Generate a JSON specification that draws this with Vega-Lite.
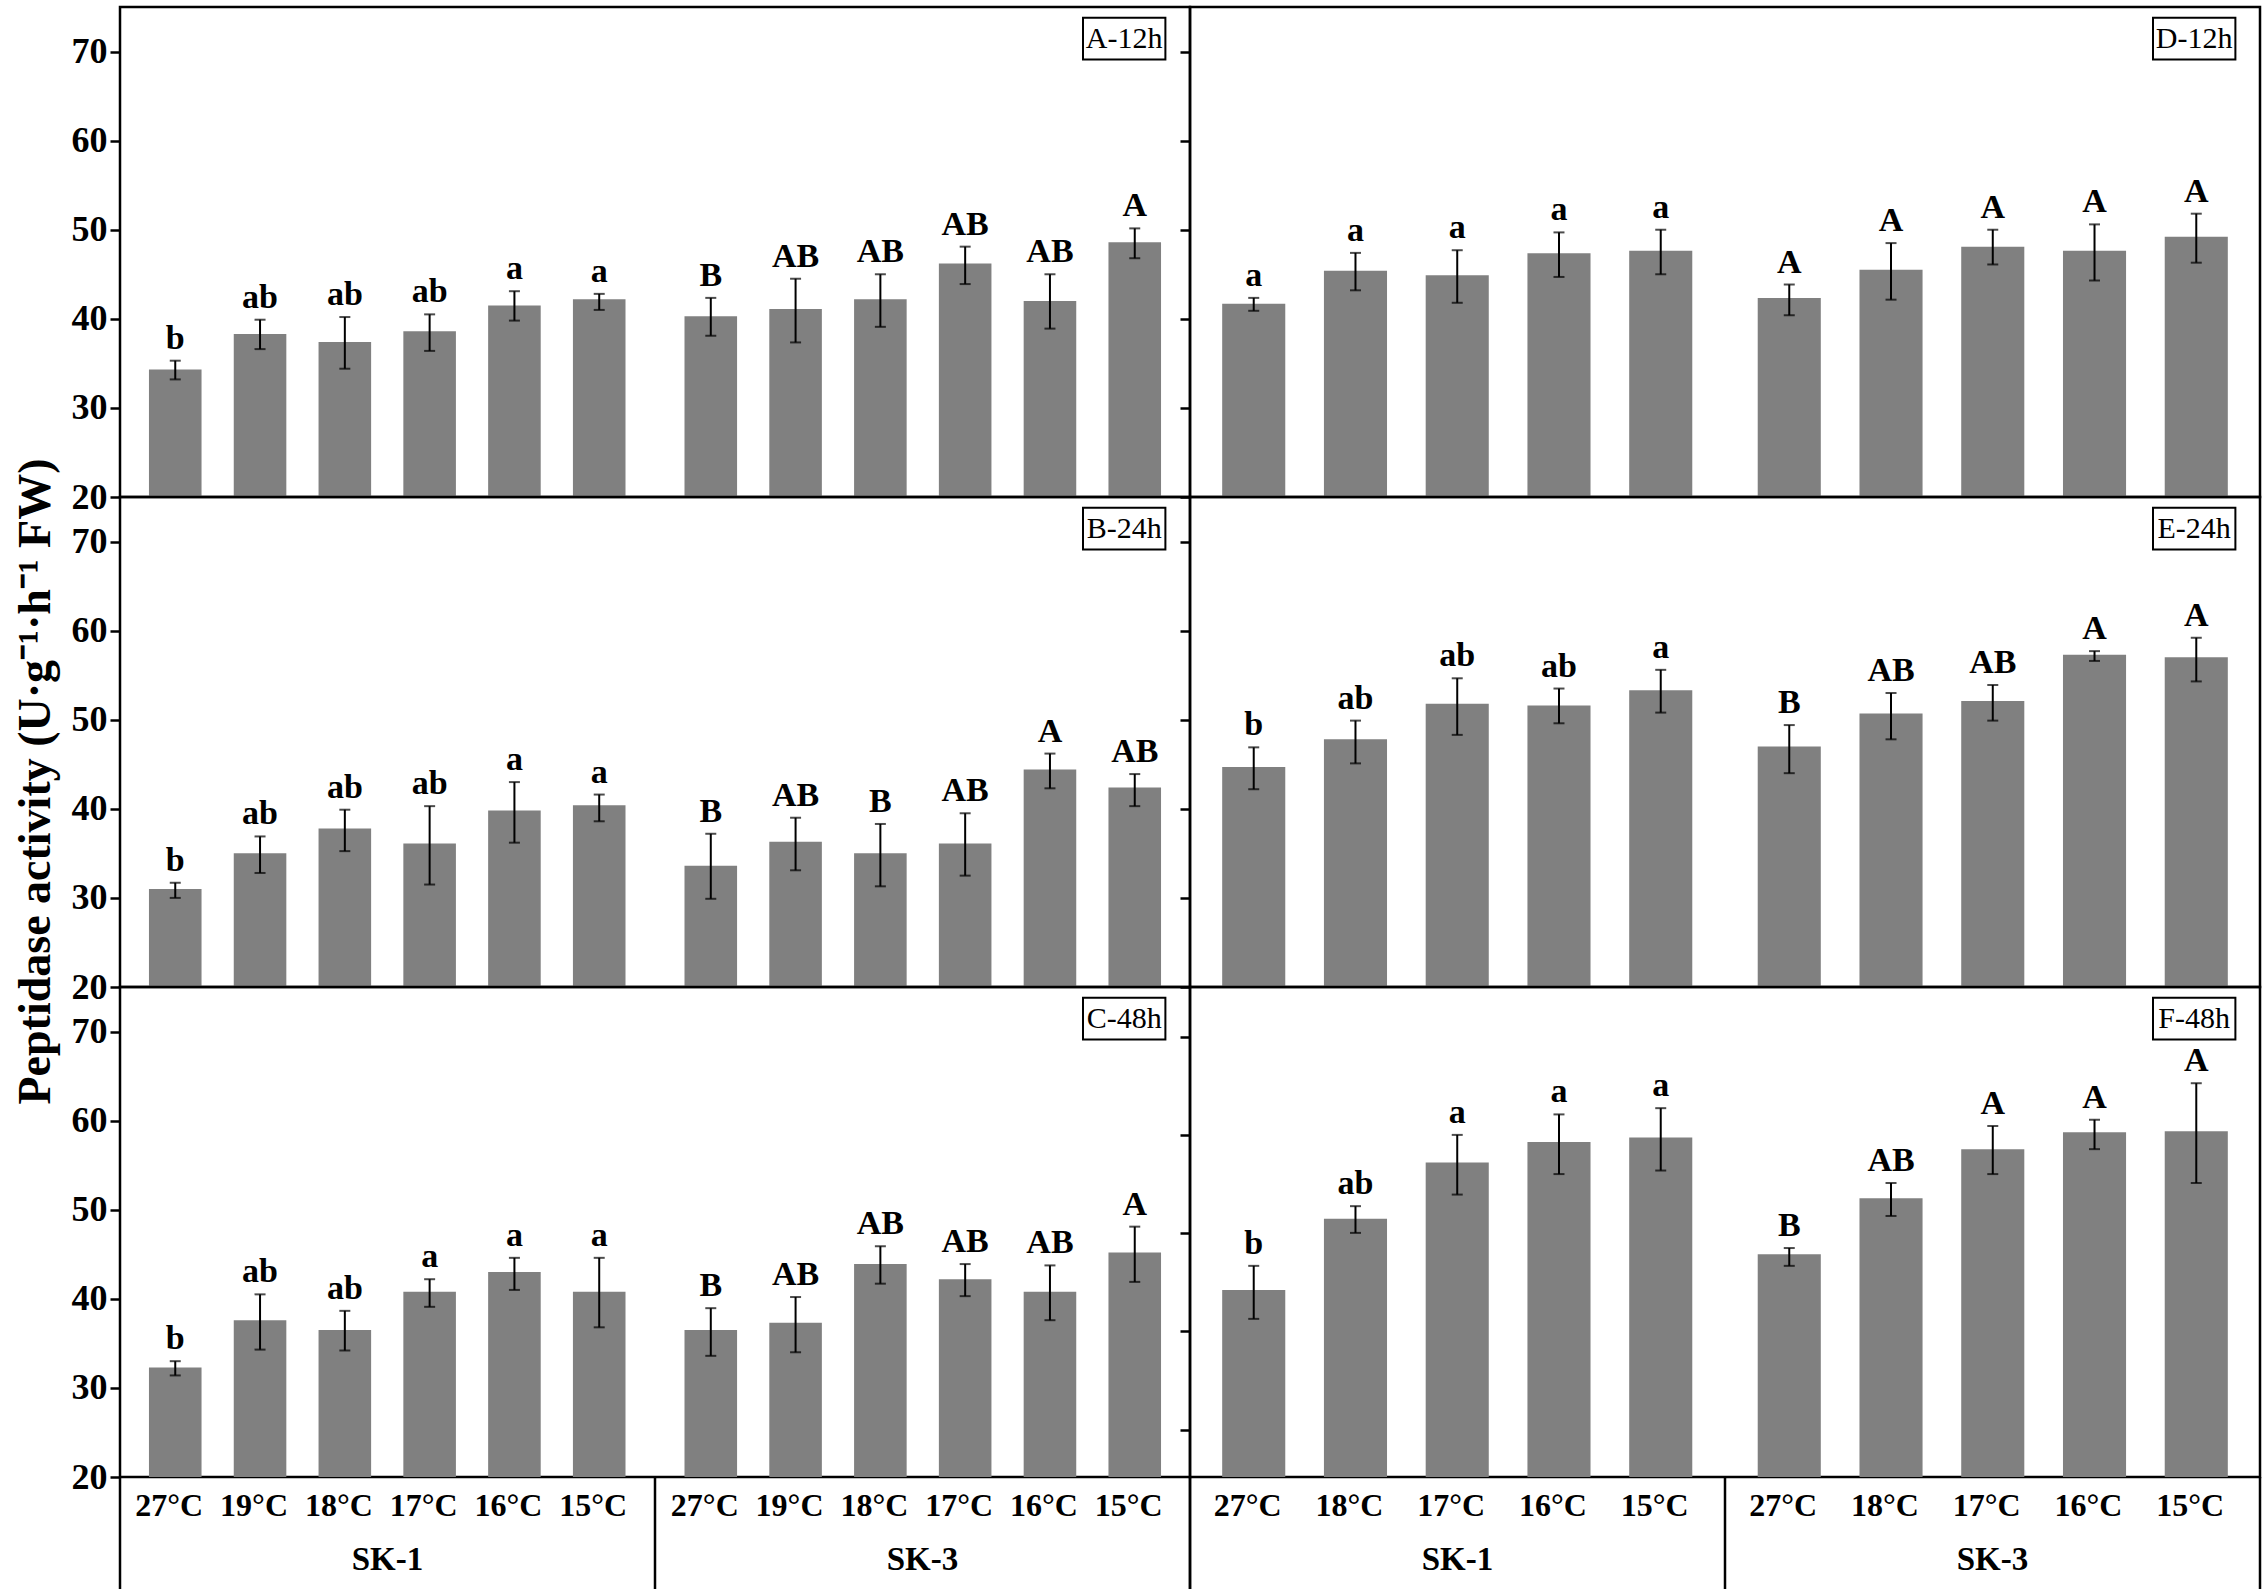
{
  "$schema": "https://vega.github.io/schema/vega-lite/v6.json",
  "padding": {"top": 5, "left": 10, "right": 4, "bottom": 0},
  "autosize": {"type": "pad"},
  "config": {
    "font": "Liberation Serif",
    "view": {"stroke": "black", "strokeWidth": 2.5},
    "text": {"color": "black"}
  },
  "datasets": {
    "bars": [
      {"panel": "A", "strain": "SK-1", "temp": "27°C", "mean": 34.3, "lo": 33.2, "hi": 35.3, "letter": "b"},
      {"panel": "A", "strain": "SK-1", "temp": "19°C", "mean": 38.3, "lo": 36.6, "hi": 39.9, "letter": "ab"},
      {"panel": "A", "strain": "SK-1", "temp": "18°C", "mean": 37.4, "lo": 34.4, "hi": 40.2, "letter": "ab"},
      {"panel": "A", "strain": "SK-1", "temp": "17°C", "mean": 38.6, "lo": 36.4, "hi": 40.5, "letter": "ab"},
      {"panel": "A", "strain": "SK-1", "temp": "16°C", "mean": 41.5, "lo": 39.8, "hi": 43.1, "letter": "a"},
      {"panel": "A", "strain": "SK-1", "temp": "15°C", "mean": 42.2, "lo": 41.0, "hi": 42.8, "letter": "a"},
      {"panel": "A", "strain": "SK-3", "temp": "27°C", "mean": 40.3, "lo": 38.1, "hi": 42.35, "letter": "B"},
      {"panel": "A", "strain": "SK-3", "temp": "19°C", "mean": 41.1, "lo": 37.35, "hi": 44.5, "letter": "AB"},
      {"panel": "A", "strain": "SK-3", "temp": "18°C", "mean": 42.2, "lo": 39.1, "hi": 45.0, "letter": "AB"},
      {"panel": "A", "strain": "SK-3", "temp": "17°C", "mean": 46.2, "lo": 43.9, "hi": 48.1, "letter": "AB"},
      {"panel": "A", "strain": "SK-3", "temp": "16°C", "mean": 42.0, "lo": 38.9, "hi": 45.0, "letter": "AB"},
      {"panel": "A", "strain": "SK-3", "temp": "15°C", "mean": 48.6, "lo": 46.8, "hi": 50.15, "letter": "A"},

      {"panel": "D", "strain": "SK-1", "temp": "27°C", "mean": 41.7, "lo": 40.9, "hi": 42.35, "letter": "a"},
      {"panel": "D", "strain": "SK-1", "temp": "18°C", "mean": 45.4, "lo": 43.2, "hi": 47.4, "letter": "a"},
      {"panel": "D", "strain": "SK-1", "temp": "17°C", "mean": 44.9, "lo": 41.8, "hi": 47.7, "letter": "a"},
      {"panel": "D", "strain": "SK-1", "temp": "16°C", "mean": 47.35, "lo": 44.7, "hi": 49.7, "letter": "a"},
      {"panel": "D", "strain": "SK-1", "temp": "15°C", "mean": 47.65, "lo": 45.0, "hi": 50.0, "letter": "a"},
      {"panel": "D", "strain": "SK-3", "temp": "27°C", "mean": 42.35, "lo": 40.4, "hi": 43.85, "letter": "A"},
      {"panel": "D", "strain": "SK-3", "temp": "18°C", "mean": 45.5, "lo": 42.15, "hi": 48.5, "letter": "A"},
      {"panel": "D", "strain": "SK-3", "temp": "17°C", "mean": 48.1, "lo": 46.1, "hi": 50.0, "letter": "A"},
      {"panel": "D", "strain": "SK-3", "temp": "16°C", "mean": 47.65, "lo": 44.3, "hi": 50.6, "letter": "A"},
      {"panel": "D", "strain": "SK-3", "temp": "15°C", "mean": 49.2, "lo": 46.3, "hi": 51.8, "letter": "A"},

      {"panel": "B", "strain": "SK-1", "temp": "27°C", "mean": 31.0, "lo": 30.0, "hi": 31.7, "letter": "b"},
      {"panel": "B", "strain": "SK-1", "temp": "19°C", "mean": 35.0, "lo": 32.8, "hi": 36.9, "letter": "ab"},
      {"panel": "B", "strain": "SK-1", "temp": "18°C", "mean": 37.8, "lo": 35.25, "hi": 39.9, "letter": "ab"},
      {"panel": "B", "strain": "SK-1", "temp": "17°C", "mean": 36.1, "lo": 31.5, "hi": 40.3, "letter": "ab"},
      {"panel": "B", "strain": "SK-1", "temp": "16°C", "mean": 39.8, "lo": 36.2, "hi": 43.0, "letter": "a"},
      {"panel": "B", "strain": "SK-1", "temp": "15°C", "mean": 40.4, "lo": 38.6, "hi": 41.6, "letter": "a"},
      {"panel": "B", "strain": "SK-3", "temp": "27°C", "mean": 33.6, "lo": 29.9, "hi": 37.2, "letter": "B"},
      {"panel": "B", "strain": "SK-3", "temp": "19°C", "mean": 36.3, "lo": 33.1, "hi": 39.0, "letter": "AB"},
      {"panel": "B", "strain": "SK-3", "temp": "18°C", "mean": 35.0, "lo": 31.3, "hi": 38.3, "letter": "B"},
      {"panel": "B", "strain": "SK-3", "temp": "17°C", "mean": 36.1, "lo": 32.5, "hi": 39.5, "letter": "AB"},
      {"panel": "B", "strain": "SK-3", "temp": "16°C", "mean": 44.4, "lo": 42.3, "hi": 46.2, "letter": "A"},
      {"panel": "B", "strain": "SK-3", "temp": "15°C", "mean": 42.4, "lo": 40.3, "hi": 43.9, "letter": "AB"},

      {"panel": "E", "strain": "SK-1", "temp": "27°C", "mean": 44.7, "lo": 42.2, "hi": 46.9, "letter": "b"},
      {"panel": "E", "strain": "SK-1", "temp": "18°C", "mean": 47.8, "lo": 45.1, "hi": 49.9, "letter": "ab"},
      {"panel": "E", "strain": "SK-1", "temp": "17°C", "mean": 51.8, "lo": 48.3, "hi": 54.65, "letter": "ab"},
      {"panel": "E", "strain": "SK-1", "temp": "16°C", "mean": 51.6, "lo": 49.6, "hi": 53.5, "letter": "ab"},
      {"panel": "E", "strain": "SK-1", "temp": "15°C", "mean": 53.3, "lo": 50.8, "hi": 55.6, "letter": "a"},
      {"panel": "E", "strain": "SK-3", "temp": "27°C", "mean": 47.0, "lo": 44.0, "hi": 49.4, "letter": "B"},
      {"panel": "E", "strain": "SK-3", "temp": "18°C", "mean": 50.7, "lo": 47.8, "hi": 53.0, "letter": "AB"},
      {"panel": "E", "strain": "SK-3", "temp": "17°C", "mean": 52.1, "lo": 49.9, "hi": 53.9, "letter": "AB"},
      {"panel": "E", "strain": "SK-3", "temp": "16°C", "mean": 57.3, "lo": 56.6, "hi": 57.7, "letter": "A"},
      {"panel": "E", "strain": "SK-3", "temp": "15°C", "mean": 57.0, "lo": 54.3, "hi": 59.2, "letter": "A"},

      {"panel": "C", "strain": "SK-1", "temp": "27°C", "mean": 32.3, "lo": 31.4, "hi": 33.0, "letter": "b"},
      {"panel": "C", "strain": "SK-1", "temp": "19°C", "mean": 37.6, "lo": 34.3, "hi": 40.5, "letter": "ab"},
      {"panel": "C", "strain": "SK-1", "temp": "18°C", "mean": 36.5, "lo": 34.2, "hi": 38.65, "letter": "ab"},
      {"panel": "C", "strain": "SK-1", "temp": "17°C", "mean": 40.8, "lo": 39.1, "hi": 42.2, "letter": "a"},
      {"panel": "C", "strain": "SK-1", "temp": "16°C", "mean": 43.0, "lo": 41.0, "hi": 44.6, "letter": "a"},
      {"panel": "C", "strain": "SK-1", "temp": "15°C", "mean": 40.8, "lo": 36.8, "hi": 44.6, "letter": "a"},
      {"panel": "C", "strain": "SK-3", "temp": "27°C", "mean": 36.5, "lo": 33.6, "hi": 38.95, "letter": "B"},
      {"panel": "C", "strain": "SK-3", "temp": "19°C", "mean": 37.3, "lo": 34.0, "hi": 40.2, "letter": "AB"},
      {"panel": "C", "strain": "SK-3", "temp": "18°C", "mean": 43.9, "lo": 41.7, "hi": 45.9, "letter": "AB"},
      {"panel": "C", "strain": "SK-3", "temp": "17°C", "mean": 42.2, "lo": 40.3, "hi": 43.9, "letter": "AB"},
      {"panel": "C", "strain": "SK-3", "temp": "16°C", "mean": 40.8, "lo": 37.6, "hi": 43.75, "letter": "AB"},
      {"panel": "C", "strain": "SK-3", "temp": "15°C", "mean": 45.2, "lo": 41.9, "hi": 48.1, "letter": "A"},

      {"panel": "F", "strain": "SK-1", "temp": "27°C", "mean": 41.0, "lo": 37.75, "hi": 43.7, "letter": "b"},
      {"panel": "F", "strain": "SK-1", "temp": "18°C", "mean": 49.0, "lo": 47.4, "hi": 50.4, "letter": "ab"},
      {"panel": "F", "strain": "SK-1", "temp": "17°C", "mean": 55.3, "lo": 51.7, "hi": 58.4, "letter": "a"},
      {"panel": "F", "strain": "SK-1", "temp": "16°C", "mean": 57.6, "lo": 54.0, "hi": 60.7, "letter": "a"},
      {"panel": "F", "strain": "SK-1", "temp": "15°C", "mean": 58.1, "lo": 54.4, "hi": 61.4, "letter": "a"},
      {"panel": "F", "strain": "SK-3", "temp": "27°C", "mean": 45.0, "lo": 43.7, "hi": 45.7, "letter": "B"},
      {"panel": "F", "strain": "SK-3", "temp": "18°C", "mean": 51.3, "lo": 49.3, "hi": 53.0, "letter": "AB"},
      {"panel": "F", "strain": "SK-3", "temp": "17°C", "mean": 56.8, "lo": 54.0, "hi": 59.4, "letter": "A"},
      {"panel": "F", "strain": "SK-3", "temp": "16°C", "mean": 58.7, "lo": 56.8, "hi": 60.1, "letter": "A"},
      {"panel": "F", "strain": "SK-3", "temp": "15°C", "mean": 58.8, "lo": 53.0, "hi": 64.2, "letter": "A"}
    ],
    "labels": [
      {"panel": "A", "label": "A-12h"},
      {"panel": "B", "label": "B-24h"},
      {"panel": "C", "label": "C-48h"},
      {"panel": "D", "label": "D-12h"},
      {"panel": "E", "label": "E-24h"},
      {"panel": "F", "label": "F-48h"}
    ],
    "groups": [
      {"strain": "SK-1"},
      {"strain": "SK-3"}
    ]
  },
  "columns": 2,
  "spacing": 0,
  "bounds": "flush",
  "resolve": {"scale": {"xOffset": "independent"}},
  "concat": [
    {
      "width": 1070, "height": 490,
      "resolve": {"scale": {"x": "independent"}},
      "layer": [
        {
          "data": {"name": "bars"},
          "transform": [{"filter": "datum.panel == 'A'"}],
          "encoding": {
            "x": {"field": "strain", "type": "nominal", "axis": null, "scale": {"type": "band", "paddingInner": 0.05, "paddingOuter": 0.024}},
            "xOffset": {"field": "temp", "type": "nominal", "sort": ["27°C", "19°C", "18°C", "17°C", "16°C", "15°C"], "scale": {"type": "band", "paddingInner": 0.38, "paddingOuter": 0.19}}
          },
          "layer": [
            {"mark": {"type": "bar", "color": "#808080"},
             "encoding": {
               "y": {"field": "mean", "type": "quantitative", "scale": {"domain": [20, 75], "nice": false, "zero": false},
                     "axis": {"values": [20, 30, 40, 50, 60, 70], "title": null, "grid": false, "domain": false, "tickSize": 10, "tickWidth": 2.5, "tickColor": "black", "labelFontSize": 36, "labelFontWeight": "bold", "labelColor": "black", "labelPadding": 3, "labelFlush": false, "labelOverlap": false}},
               "y2": {"datum": 20}}},
            {"mark": {"type": "rule", "color": "black", "strokeWidth": 2}, "encoding": {"y": {"field": "lo", "type": "quantitative"}, "y2": {"field": "hi"}}},
            {"mark": {"type": "tick", "color": "black", "size": 11, "thickness": 2}, "encoding": {"y": {"field": "lo", "type": "quantitative"}}},
            {"mark": {"type": "tick", "color": "black", "size": 11, "thickness": 2}, "encoding": {"y": {"field": "hi", "type": "quantitative"}}},
            {"mark": {"type": "text", "baseline": "bottom", "dy": -5, "fontSize": 34, "fontWeight": "bold"}, "encoding": {"y": {"field": "hi", "type": "quantitative"}, "text": {"field": "letter"}}}
          ]
        },
        {
          "data": {"name": "labels"},
          "transform": [{"filter": "datum.panel == 'A'"}],
          "layer": [
            {"mark": {"type": "rect", "fill": "white", "stroke": "black", "strokeWidth": 2},
             "encoding": {"x": {"datum": 0.9, "type": "quantitative", "scale": {"domain": [0, 1]}, "axis": null}, "x2": {"datum": 0.977}, "y": {"datum": 73.8, "type": "quantitative"}, "y2": {"datum": 69.1}}},
            {"mark": {"type": "text", "fontSize": 30},
             "encoding": {"x": {"datum": 0.9385, "type": "quantitative"}, "y": {"datum": 71.45, "type": "quantitative"}, "text": {"field": "label"}}}
          ]
        }
      ]
    },
    {
      "width": 1070, "height": 490,
      "resolve": {"scale": {"x": "independent"}},
      "layer": [
        {
          "data": {"name": "bars"},
          "transform": [{"filter": "datum.panel == 'D'"}],
          "encoding": {
            "x": {"field": "strain", "type": "nominal", "axis": null, "scale": {"type": "band", "paddingInner": 0.05, "paddingOuter": 0.024}},
            "xOffset": {"field": "temp", "type": "nominal", "sort": ["27°C", "18°C", "17°C", "16°C", "15°C"], "scale": {"type": "band", "paddingInner": 0.38, "paddingOuter": 0.19}}
          },
          "layer": [
            {"mark": {"type": "bar", "color": "#808080"},
             "encoding": {
               "y": {"field": "mean", "type": "quantitative", "scale": {"domain": [20, 75], "nice": false, "zero": false},
                     "axis": {"values": [20, 30, 40, 50, 60, 70], "title": null, "grid": false, "domain": false, "labels": false, "tickSize": 10, "tickWidth": 2.5, "tickColor": "black"}},
               "y2": {"datum": 20}}},
            {"mark": {"type": "rule", "color": "black", "strokeWidth": 2}, "encoding": {"y": {"field": "lo", "type": "quantitative"}, "y2": {"field": "hi"}}},
            {"mark": {"type": "tick", "color": "black", "size": 11, "thickness": 2}, "encoding": {"y": {"field": "lo", "type": "quantitative"}}},
            {"mark": {"type": "tick", "color": "black", "size": 11, "thickness": 2}, "encoding": {"y": {"field": "hi", "type": "quantitative"}}},
            {"mark": {"type": "text", "baseline": "bottom", "dy": -5, "fontSize": 34, "fontWeight": "bold"}, "encoding": {"y": {"field": "hi", "type": "quantitative"}, "text": {"field": "letter"}}}
          ]
        },
        {
          "data": {"name": "labels"},
          "transform": [{"filter": "datum.panel == 'D'"}],
          "layer": [
            {"mark": {"type": "rect", "fill": "white", "stroke": "black", "strokeWidth": 2},
             "encoding": {"x": {"datum": 0.9, "type": "quantitative", "scale": {"domain": [0, 1]}, "axis": null}, "x2": {"datum": 0.977}, "y": {"datum": 73.8, "type": "quantitative"}, "y2": {"datum": 69.1}}},
            {"mark": {"type": "text", "fontSize": 30},
             "encoding": {"x": {"datum": 0.9385, "type": "quantitative"}, "y": {"datum": 71.45, "type": "quantitative"}, "text": {"field": "label"}}}
          ]
        }
      ]
    },
    {
      "width": 1070, "height": 490,
      "resolve": {"scale": {"x": "independent"}},
      "layer": [
        {
          "data": {"name": "bars"},
          "transform": [{"filter": "datum.panel == 'B'"}],
          "encoding": {
            "x": {"field": "strain", "type": "nominal", "axis": null, "scale": {"type": "band", "paddingInner": 0.05, "paddingOuter": 0.024}},
            "xOffset": {"field": "temp", "type": "nominal", "sort": ["27°C", "19°C", "18°C", "17°C", "16°C", "15°C"], "scale": {"type": "band", "paddingInner": 0.38, "paddingOuter": 0.19}}
          },
          "layer": [
            {"mark": {"type": "bar", "color": "#808080"},
             "encoding": {
               "y": {"field": "mean", "type": "quantitative", "scale": {"domain": [20, 75], "nice": false, "zero": false},
                     "axis": {"values": [20, 30, 40, 50, 60, 70], "title": "Peptidase activity (U·g⁻¹·h⁻¹ FW)", "titleFontSize": 46, "titleFontWeight": "bold", "titleColor": "black", "titlePadding": 12, "titleY": 284, "grid": false, "domain": false, "tickSize": 10, "tickWidth": 2.5, "tickColor": "black", "labelFontSize": 36, "labelFontWeight": "bold", "labelColor": "black", "labelPadding": 3, "labelFlush": false, "labelOverlap": false}},
               "y2": {"datum": 20}}},
            {"mark": {"type": "rule", "color": "black", "strokeWidth": 2}, "encoding": {"y": {"field": "lo", "type": "quantitative"}, "y2": {"field": "hi"}}},
            {"mark": {"type": "tick", "color": "black", "size": 11, "thickness": 2}, "encoding": {"y": {"field": "lo", "type": "quantitative"}}},
            {"mark": {"type": "tick", "color": "black", "size": 11, "thickness": 2}, "encoding": {"y": {"field": "hi", "type": "quantitative"}}},
            {"mark": {"type": "text", "baseline": "bottom", "dy": -5, "fontSize": 34, "fontWeight": "bold"}, "encoding": {"y": {"field": "hi", "type": "quantitative"}, "text": {"field": "letter"}}}
          ]
        },
        {
          "data": {"name": "labels"},
          "transform": [{"filter": "datum.panel == 'B'"}],
          "layer": [
            {"mark": {"type": "rect", "fill": "white", "stroke": "black", "strokeWidth": 2},
             "encoding": {"x": {"datum": 0.9, "type": "quantitative", "scale": {"domain": [0, 1]}, "axis": null}, "x2": {"datum": 0.977}, "y": {"datum": 73.8, "type": "quantitative"}, "y2": {"datum": 69.1}}},
            {"mark": {"type": "text", "fontSize": 30},
             "encoding": {"x": {"datum": 0.9385, "type": "quantitative"}, "y": {"datum": 71.45, "type": "quantitative"}, "text": {"field": "label"}}}
          ]
        }
      ]
    },
    {
      "width": 1070, "height": 490,
      "resolve": {"scale": {"x": "independent"}},
      "layer": [
        {
          "data": {"name": "bars"},
          "transform": [{"filter": "datum.panel == 'E'"}],
          "encoding": {
            "x": {"field": "strain", "type": "nominal", "axis": null, "scale": {"type": "band", "paddingInner": 0.05, "paddingOuter": 0.024}},
            "xOffset": {"field": "temp", "type": "nominal", "sort": ["27°C", "18°C", "17°C", "16°C", "15°C"], "scale": {"type": "band", "paddingInner": 0.38, "paddingOuter": 0.19}}
          },
          "layer": [
            {"mark": {"type": "bar", "color": "#808080"},
             "encoding": {
               "y": {"field": "mean", "type": "quantitative", "scale": {"domain": [20, 75], "nice": false, "zero": false},
                     "axis": {"values": [20, 30, 40, 50, 60, 70], "title": null, "grid": false, "domain": false, "labels": false, "tickSize": 10, "tickWidth": 2.5, "tickColor": "black"}},
               "y2": {"datum": 20}}},
            {"mark": {"type": "rule", "color": "black", "strokeWidth": 2}, "encoding": {"y": {"field": "lo", "type": "quantitative"}, "y2": {"field": "hi"}}},
            {"mark": {"type": "tick", "color": "black", "size": 11, "thickness": 2}, "encoding": {"y": {"field": "lo", "type": "quantitative"}}},
            {"mark": {"type": "tick", "color": "black", "size": 11, "thickness": 2}, "encoding": {"y": {"field": "hi", "type": "quantitative"}}},
            {"mark": {"type": "text", "baseline": "bottom", "dy": -5, "fontSize": 34, "fontWeight": "bold"}, "encoding": {"y": {"field": "hi", "type": "quantitative"}, "text": {"field": "letter"}}}
          ]
        },
        {
          "data": {"name": "labels"},
          "transform": [{"filter": "datum.panel == 'E'"}],
          "layer": [
            {"mark": {"type": "rect", "fill": "white", "stroke": "black", "strokeWidth": 2},
             "encoding": {"x": {"datum": 0.9, "type": "quantitative", "scale": {"domain": [0, 1]}, "axis": null}, "x2": {"datum": 0.977}, "y": {"datum": 73.8, "type": "quantitative"}, "y2": {"datum": 69.1}}},
            {"mark": {"type": "text", "fontSize": 30},
             "encoding": {"x": {"datum": 0.9385, "type": "quantitative"}, "y": {"datum": 71.45, "type": "quantitative"}, "text": {"field": "label"}}}
          ]
        }
      ]
    },
    {
      "width": 1070, "height": 490,
      "resolve": {"scale": {"x": "independent"}},
      "layer": [
        {
          "data": {"name": "bars"},
          "transform": [{"filter": "datum.panel == 'C'"}],
          "encoding": {
            "x": {"field": "strain", "type": "nominal", "axis": null, "scale": {"type": "band", "paddingInner": 0.05, "paddingOuter": 0.024}},
            "xOffset": {"field": "temp", "type": "nominal", "sort": ["27°C", "19°C", "18°C", "17°C", "16°C", "15°C"], "scale": {"type": "band", "paddingInner": 0.38, "paddingOuter": 0.19}}
          },
          "layer": [
            {"mark": {"type": "bar", "color": "#808080"},
             "encoding": {
               "y": {"field": "mean", "type": "quantitative", "scale": {"domain": [20, 75], "nice": false, "zero": false},
                     "axis": {"values": [20, 30, 40, 50, 60, 70], "title": null, "grid": false, "domain": false, "tickSize": 10, "tickWidth": 2.5, "tickColor": "black", "labelFontSize": 36, "labelFontWeight": "bold", "labelColor": "black", "labelPadding": 3, "labelFlush": false, "labelOverlap": false}},
               "y2": {"datum": 20}}},
            {"mark": {"type": "rule", "color": "black", "strokeWidth": 2}, "encoding": {"y": {"field": "lo", "type": "quantitative"}, "y2": {"field": "hi"}}},
            {"mark": {"type": "tick", "color": "black", "size": 11, "thickness": 2}, "encoding": {"y": {"field": "lo", "type": "quantitative"}}},
            {"mark": {"type": "tick", "color": "black", "size": 11, "thickness": 2}, "encoding": {"y": {"field": "hi", "type": "quantitative"}}},
            {"mark": {"type": "text", "baseline": "bottom", "dy": -5, "fontSize": 34, "fontWeight": "bold"}, "encoding": {"y": {"field": "hi", "type": "quantitative"}, "text": {"field": "letter"}}}
          ]
        },
        {
          "data": {"name": "labels"},
          "transform": [{"filter": "datum.panel == 'C'"}],
          "layer": [
            {"mark": {"type": "rect", "fill": "white", "stroke": "black", "strokeWidth": 2},
             "encoding": {"x": {"datum": 0.9, "type": "quantitative", "scale": {"domain": [0, 1]}, "axis": null}, "x2": {"datum": 0.977}, "y": {"datum": 73.8, "type": "quantitative"}, "y2": {"datum": 69.1}}},
            {"mark": {"type": "text", "fontSize": 30},
             "encoding": {"x": {"datum": 0.9385, "type": "quantitative"}, "y": {"datum": 71.45, "type": "quantitative"}, "text": {"field": "label"}}}
          ]
        }
      ]
    },
    {
      "width": 1070, "height": 490,
      "resolve": {"scale": {"x": "independent"}},
      "layer": [
        {
          "data": {"name": "bars"},
          "transform": [{"filter": "datum.panel == 'F'"}],
          "encoding": {
            "x": {"field": "strain", "type": "nominal", "axis": null, "scale": {"type": "band", "paddingInner": 0.05, "paddingOuter": 0.024}},
            "xOffset": {"field": "temp", "type": "nominal", "sort": ["27°C", "18°C", "17°C", "16°C", "15°C"], "scale": {"type": "band", "paddingInner": 0.38, "paddingOuter": 0.19}}
          },
          "layer": [
            {"mark": {"type": "bar", "color": "#808080"},
             "encoding": {
               "y": {"field": "mean", "type": "quantitative", "scale": {"domain": [20, 75], "nice": false, "zero": false},
                     "axis": {"values": [25.3, 36.4, 47.4, 58.4, 69.4], "title": null, "grid": false, "domain": false, "labels": false, "tickSize": 10, "tickWidth": 2.5, "tickColor": "black"}},
               "y2": {"datum": 20}}},
            {"mark": {"type": "rule", "color": "black", "strokeWidth": 2}, "encoding": {"y": {"field": "lo", "type": "quantitative"}, "y2": {"field": "hi"}}},
            {"mark": {"type": "tick", "color": "black", "size": 11, "thickness": 2}, "encoding": {"y": {"field": "lo", "type": "quantitative"}}},
            {"mark": {"type": "tick", "color": "black", "size": 11, "thickness": 2}, "encoding": {"y": {"field": "hi", "type": "quantitative"}}},
            {"mark": {"type": "text", "baseline": "bottom", "dy": -5, "fontSize": 34, "fontWeight": "bold"}, "encoding": {"y": {"field": "hi", "type": "quantitative"}, "text": {"field": "letter"}}}
          ]
        },
        {
          "data": {"name": "labels"},
          "transform": [{"filter": "datum.panel == 'F'"}],
          "layer": [
            {"mark": {"type": "rect", "fill": "white", "stroke": "black", "strokeWidth": 2},
             "encoding": {"x": {"datum": 0.9, "type": "quantitative", "scale": {"domain": [0, 1]}, "axis": null}, "x2": {"datum": 0.977}, "y": {"datum": 73.8, "type": "quantitative"}, "y2": {"datum": 69.1}}},
            {"mark": {"type": "text", "fontSize": 30},
             "encoding": {"x": {"datum": 0.9385, "type": "quantitative"}, "y": {"datum": 71.45, "type": "quantitative"}, "text": {"field": "label"}}}
          ]
        }
      ]
    },
    {
      "width": 1070, "height": 112,
      "view": {"stroke": null},
      "resolve": {"scale": {"x": "independent"}},
      "layer": [
        {
          "data": {"name": "bars"},
          "transform": [{"filter": "datum.panel == 'C'"}],
          "mark": {"type": "text", "fontSize": 32, "fontWeight": "bold", "baseline": "middle", "dx": -6},
          "encoding": {
            "x": {"field": "strain", "type": "nominal", "axis": null, "scale": {"type": "band", "paddingInner": 0.05, "paddingOuter": 0.024}},
            "xOffset": {"field": "temp", "type": "nominal", "sort": ["27°C", "19°C", "18°C", "17°C", "16°C", "15°C"], "scale": {"type": "band", "paddingInner": 0.38, "paddingOuter": 0.19}},
            "y": {"datum": "t", "type": "ordinal", "axis": null, "scale": {"type": "point", "domain": ["t", "g"], "padding": 0.55}},
            "text": {"field": "temp"}
          }
        },
        {
          "data": {"name": "groups"},
          "mark": {"type": "text", "fontSize": 33, "fontWeight": "bold", "baseline": "middle"},
          "encoding": {
            "x": {"field": "strain", "type": "nominal", "axis": null, "scale": {"type": "band", "paddingInner": 0, "paddingOuter": 0}},
            "y": {"datum": "g", "type": "ordinal"},
            "text": {"field": "strain"}
          }
        },
        {
          "data": {"name": "groups"},
          "mark": {"type": "rule", "color": "black", "strokeWidth": 2.5},
          "encoding": {
            "x": {"field": "strain", "type": "nominal", "axis": null, "bandPosition": 0, "scale": {"type": "band", "paddingInner": 0, "paddingOuter": 0}}
          }
        },
        {
          "data": {"name": "groups"},
          "transform": [{"filter": "datum.strain == 'SK-3'"}],
          "mark": {"type": "rule", "color": "black", "strokeWidth": 2.5},
          "encoding": {
            "x": {"field": "strain", "type": "nominal", "axis": null, "bandPosition": 1, "scale": {"type": "band", "paddingInner": 0, "paddingOuter": 0}}
          }
        }
      ]
    },
    {
      "width": 1070, "height": 112,
      "view": {"stroke": null},
      "resolve": {"scale": {"x": "independent"}},
      "layer": [
        {
          "data": {"name": "bars"},
          "transform": [{"filter": "datum.panel == 'F'"}],
          "mark": {"type": "text", "fontSize": 32, "fontWeight": "bold", "baseline": "middle", "dx": -6},
          "encoding": {
            "x": {"field": "strain", "type": "nominal", "axis": null, "scale": {"type": "band", "paddingInner": 0.05, "paddingOuter": 0.024}},
            "xOffset": {"field": "temp", "type": "nominal", "sort": ["27°C", "18°C", "17°C", "16°C", "15°C"], "scale": {"type": "band", "paddingInner": 0.38, "paddingOuter": 0.19}},
            "y": {"datum": "t", "type": "ordinal", "axis": null, "scale": {"type": "point", "domain": ["t", "g"], "padding": 0.55}},
            "text": {"field": "temp"}
          }
        },
        {
          "data": {"name": "groups"},
          "mark": {"type": "text", "fontSize": 33, "fontWeight": "bold", "baseline": "middle"},
          "encoding": {
            "x": {"field": "strain", "type": "nominal", "axis": null, "scale": {"type": "band", "paddingInner": 0, "paddingOuter": 0}},
            "y": {"datum": "g", "type": "ordinal"},
            "text": {"field": "strain"}
          }
        },
        {
          "data": {"name": "groups"},
          "mark": {"type": "rule", "color": "black", "strokeWidth": 2.5},
          "encoding": {
            "x": {"field": "strain", "type": "nominal", "axis": null, "bandPosition": 0, "scale": {"type": "band", "paddingInner": 0, "paddingOuter": 0}}
          }
        },
        {
          "data": {"name": "groups"},
          "transform": [{"filter": "datum.strain == 'SK-3'"}],
          "mark": {"type": "rule", "color": "black", "strokeWidth": 2.5},
          "encoding": {
            "x": {"field": "strain", "type": "nominal", "axis": null, "bandPosition": 1, "scale": {"type": "band", "paddingInner": 0, "paddingOuter": 0}}
          }
        }
      ]
    }
  ]
}
